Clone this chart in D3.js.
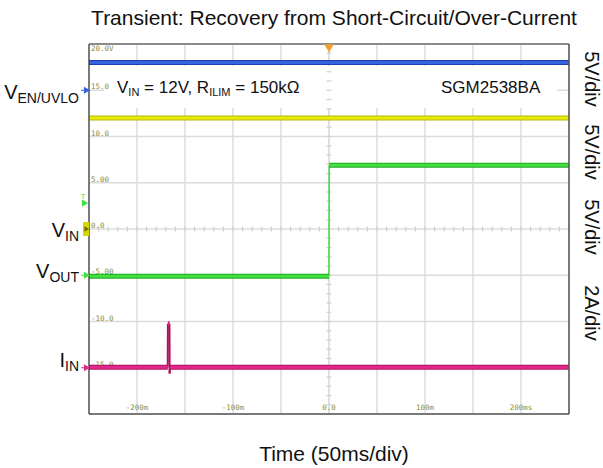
<!DOCTYPE html>
<html>
<head>
<meta charset="utf-8">
<script src="https://cdn.jsdelivr.net/npm/d3@7"></script>
<style>
  body { margin: 0; background: #fff; }
  svg { display: block; }
</style>
</head>
<body>
<div id="chart"></div>
<script>
// Scope capture data (time in ms, values in V or A)
var timeDomain = [-250, 250];
var divDomain = [-4, 4];

var enTime = [-250, 250];
var enVolts = [3.0, 3.0];

var vinTime = [-250, 250];
var vinVolts = [12.0, 12.0];

var voutTime = [-250, 0, 0.2, 250];
var voutVolts = [-0.1, -0.1, 11.9, 11.9];

var iinTime = [-250, -168, -167.8, -166.2, -166.0, -165.6, 250];
var iinAmps = [0.02, 0.02, 1.9, 1.9, -0.25, 0.02, 0.02];

var yTickLabels = ["20.0V", "15.0", "10.0", "5.00", "0.0", "-5.00", "-10.0", "-15.0"];
var yTickDivs = [4, 3, 2, 1, 0, -1, -2, -3];
var xTickLabels = ["-200m", "-100m", "0.0", "100m", "200ms"];
var xTickTimes = [-200, -100, 0, 100, 200];

var channels = [
    { name: "EN", t: enTime, v: enVolts, perDiv: 5, offset: 3, color: "#3563e0", dark: "#1f3fae" },
    { name: "VIN", t: vinTime, v: vinVolts, perDiv: 5, offset: 0, color: "#eaea10", dark: "#b8b800" },
    { name: "VOUT", t: voutTime, v: voutVolts, perDiv: 5, offset: -1, color: "#3fe03f", dark: "#22a822" },
    { name: "IIN", t: iinTime, v: iinAmps, perDiv: 2, offset: -3, color: "#e0288c", dark: "#b0105f" }
];

var svgWidth = 603;
var svgHeight = 468;
var plot = { left: 89, top: 44, right: 569, bottom: 414 };

var svg = d3.select("#chart").append("svg")
    .attr("width", svgWidth)
    .attr("height", svgHeight);

var x = d3.scaleLinear().domain(timeDomain).range([plot.left, plot.right]);
var y = d3.scaleLinear().domain(divDomain).range([plot.bottom, plot.top]);

var font = "'Liberation Sans', Arial, sans-serif";
var mono = "'DejaVu Sans Mono', monospace";

// grid
var grid = svg.append("g");
grid.selectAll("line.v")
    .data(d3.range(-250, 251, 50))
    .enter().append("line")
    .attr("x1", d => x(d)).attr("x2", d => x(d))
    .attr("y1", plot.top).attr("y2", plot.bottom)
    .attr("stroke", "#dcdcdc").attr("stroke-width", 1.5);
grid.selectAll("line.h")
    .data(d3.range(-4, 5, 1))
    .enter().append("line")
    .attr("x1", plot.left).attr("x2", plot.right)
    .attr("y1", d => y(d)).attr("y2", d => y(d))
    .attr("stroke", "#dcdcdc").attr("stroke-width", 1.5);

// white boxes behind annotations
svg.append("rect").attr("x", 104).attr("y", 66).attr("width", 453).attr("height", 42).attr("fill", "#fff");

// center axes with minor ticks
grid.append("line")
    .attr("x1", x(0)).attr("x2", x(0)).attr("y1", plot.top).attr("y2", plot.bottom)
    .attr("stroke", "#dcdcdc").attr("stroke-width", 1.5);
grid.append("line")
    .attr("x1", x(-12)).attr("x2", x(12)).attr("y1", y(3)).attr("y2", y(3))
    .attr("stroke", "#dcdcdc").attr("stroke-width", 1.5);
svg.append("g").selectAll("line")
    .data(d3.range(-250, 251, 10))
    .enter().append("line")
    .attr("x1", d => x(d)).attr("x2", d => x(d))
    .attr("y1", y(0) - 2.5).attr("y2", y(0) + 2.5)
    .attr("stroke", "#d0d0d0").attr("stroke-width", 1.2);
svg.append("g").selectAll("line")
    .data(d3.range(-4, 4.01, 0.2))
    .enter().append("line")
    .attr("x1", x(0) - 2.5).attr("x2", x(0) + 2.5)
    .attr("y1", d => y(d)).attr("y2", d => y(d))
    .attr("stroke", "#d0d0d0").attr("stroke-width", 1.2);

// scope scale labels
svg.append("g").selectAll("text")
    .data(yTickLabels)
    .enter().append("text")
    .attr("x", plot.left + 2)
    .attr("y", (d, i) => i === 0 ? y(yTickDivs[i]) + 7 : y(yTickDivs[i]) - 1)
    .attr("font-family", mono).attr("font-size", 7.5)
    .attr("fill", "#8c8c3a")
    .text(d => d);
svg.append("g").selectAll("text")
    .data(xTickLabels)
    .enter().append("text")
    .attr("x", (d, i) => x(xTickTimes[i]))
    .attr("y", plot.bottom - 4)
    .attr("text-anchor", "middle")
    .attr("font-family", mono).attr("font-size", 7.5)
    .attr("fill", "#8c8c3a")
    .text(d => d);

// traces
function segs(ch) {
    var out = [];
    for (var i = 0; i < ch.t.length - 1; i++) {
        out.push({
            x1: x(ch.t[i]), y1: y(ch.offset + ch.v[i] / ch.perDiv),
            x2: x(ch.t[i + 1]), y2: y(ch.offset + ch.v[i + 1] / ch.perDiv)
        });
    }
    return out;
}
channels.forEach(function (ch) {
    var g = svg.append("g");
    var s = segs(ch);
    var flat = s.filter(d => Math.abs(d.y2 - d.y1) < Math.abs(d.x2 - d.x1));
    var steep = s.filter(d => Math.abs(d.y2 - d.y1) >= Math.abs(d.x2 - d.x1));
    g.selectAll("line.steep").data(steep).enter().append("line")
        .attr("x1", d => d.x1).attr("y1", d => d.y1)
        .attr("x2", d => d.x2).attr("y2", d => d.y2)
        .attr("stroke", ch.name === "IIN" ? ch.dark : ch.color)
        .attr("stroke-width", ch.name === "IIN" ? 2 : 1.5);
    g.selectAll("line.flatd").data(flat).enter().append("line")
        .attr("x1", d => d.x1).attr("y1", d => d.y1)
        .attr("x2", d => d.x2).attr("y2", d => d.y2)
        .attr("stroke", ch.dark).attr("stroke-width", 5);
    g.selectAll("line.flat").data(flat).enter().append("line")
        .attr("x1", d => d.x1).attr("y1", d => d.y1)
        .attr("x2", d => d.x2).attr("y2", d => d.y2)
        .attr("stroke", ch.color).attr("stroke-width", 3);
});

// frame
svg.append("line").attr("x1", plot.left).attr("x2", plot.right).attr("y1", plot.top).attr("y2", plot.top)
    .attr("stroke", "#8a8a8a").attr("stroke-width", 2);
svg.append("line").attr("x1", plot.left).attr("x2", plot.right).attr("y1", plot.bottom).attr("y2", plot.bottom)
    .attr("stroke", "#555").attr("stroke-width", 1.5);
svg.append("line").attr("x1", plot.left).attr("x2", plot.left).attr("y1", plot.top).attr("y2", plot.bottom)
    .attr("stroke", "#333").attr("stroke-width", 1.2);
svg.append("line").attr("x1", plot.right).attr("x2", plot.right).attr("y1", plot.top).attr("y2", plot.bottom)
    .attr("stroke", "#555").attr("stroke-width", 1.5);

// trigger marker
svg.append("path")
    .attr("d", d3.symbol().type(d3.symbolTriangle).size(40))
    .attr("transform", `translate(${x(0)},${plot.top + 3}) rotate(180)`)
    .attr("fill", "#f0a030");

// channel ground markers on left edge
channels.forEach(function (ch) {
    if (ch.name === "VIN") {
        svg.append("rect").attr("x", plot.left - 6).attr("y", y(ch.offset) - 7)
            .attr("width", 6).attr("height", 14).attr("fill", "#d8d800");
        svg.append("path").attr("d", d3.symbol().type(d3.symbolTriangle).size(14))
            .attr("transform", `translate(${plot.left - 3},${y(ch.offset)}) rotate(90)`)
            .attr("fill", "#707000");
        return;
    }
    svg.append("path").attr("d", d3.symbol().type(d3.symbolTriangle).size(22))
        .attr("transform", `translate(${plot.left - 3},${y(ch.offset)}) rotate(90)`)
        .attr("fill", ch.color);
    svg.append("line").attr("x1", plot.left - 8).attr("x2", plot.left - 3)
        .attr("y1", y(ch.offset)).attr("y2", y(ch.offset))
        .attr("stroke", ch.color).attr("stroke-width", 1);
});
// trigger level marker
var trigY = y(-1 + 7.8 / 5);
svg.append("path").attr("d", d3.symbol().type(d3.symbolTriangle).size(22))
    .attr("transform", `translate(${plot.left - 5},${trigY}) rotate(90)`)
    .attr("fill", "#3fe03f");
svg.append("text").attr("x", plot.left - 8).attr("y", trigY - 4)
    .attr("font-family", mono).attr("font-size", 7).attr("fill", "#3fe03f").text("T");

// annotations
var ann = svg.append("text").attr("x", 117).attr("y", 93)
    .attr("font-family", font).attr("font-size", 17).attr("fill", "#111");
ann.append("tspan").text("V");
ann.append("tspan").attr("font-size", 11).attr("dy", 3).text("IN");
ann.append("tspan").attr("dy", -3).text(" = 12V, R");
ann.append("tspan").attr("font-size", 11).attr("dy", 3).text("ILIM");
ann.append("tspan").attr("dy", -3).text(" = 150k\u03A9");

svg.append("text").attr("x", 441).attr("y", 93)
    .attr("font-family", font).attr("font-size", 17).attr("fill", "#111")
    .text("SGM2538BA");

// title and x label
svg.append("text").attr("x", 334).attr("y", 25)
    .attr("text-anchor", "middle")
    .attr("font-family", font).attr("font-size", 21).attr("fill", "#111")
    .text("Transient: Recovery from Short-Circuit/Over-Current");
svg.append("text").attr("x", 334).attr("y", 461)
    .attr("text-anchor", "middle")
    .attr("font-family", font).attr("font-size", 21).attr("fill", "#111")
    .text("Time (50ms/div)");

// left channel labels
var leftLabels = [
    { main: "V", sub: "EN/UVLO", yb: 99 },
    { main: "V", sub: "IN", yb: 237 },
    { main: "V", sub: "OUT", yb: 278 },
    { main: "I", sub: "IN", yb: 367 }
];
leftLabels.forEach(function (l) {
    var t = svg.append("text").attr("x", 79).attr("y", l.yb)
        .attr("text-anchor", "end")
        .attr("font-family", font).attr("font-size", 20).attr("fill", "#111");
    t.append("tspan").text(l.main);
    t.append("tspan").attr("font-size", 14).attr("dy", 4).text(l.sub);
});

// right scale labels (rotated)
var rightLabels = ["5V/div", "5V/div", "5V/div", "2A/div"];
var rightCenters = [79, 152, 227, 313];
rightLabels.forEach(function (d, i) {
    svg.append("text")
        .attr("transform", `translate(585,${rightCenters[i]}) rotate(90)`)
        .attr("text-anchor", "middle")
        .attr("font-family", font).attr("font-size", 20).attr("fill", "#111")
        .text(d);
});
</script>
</body>
</html>
